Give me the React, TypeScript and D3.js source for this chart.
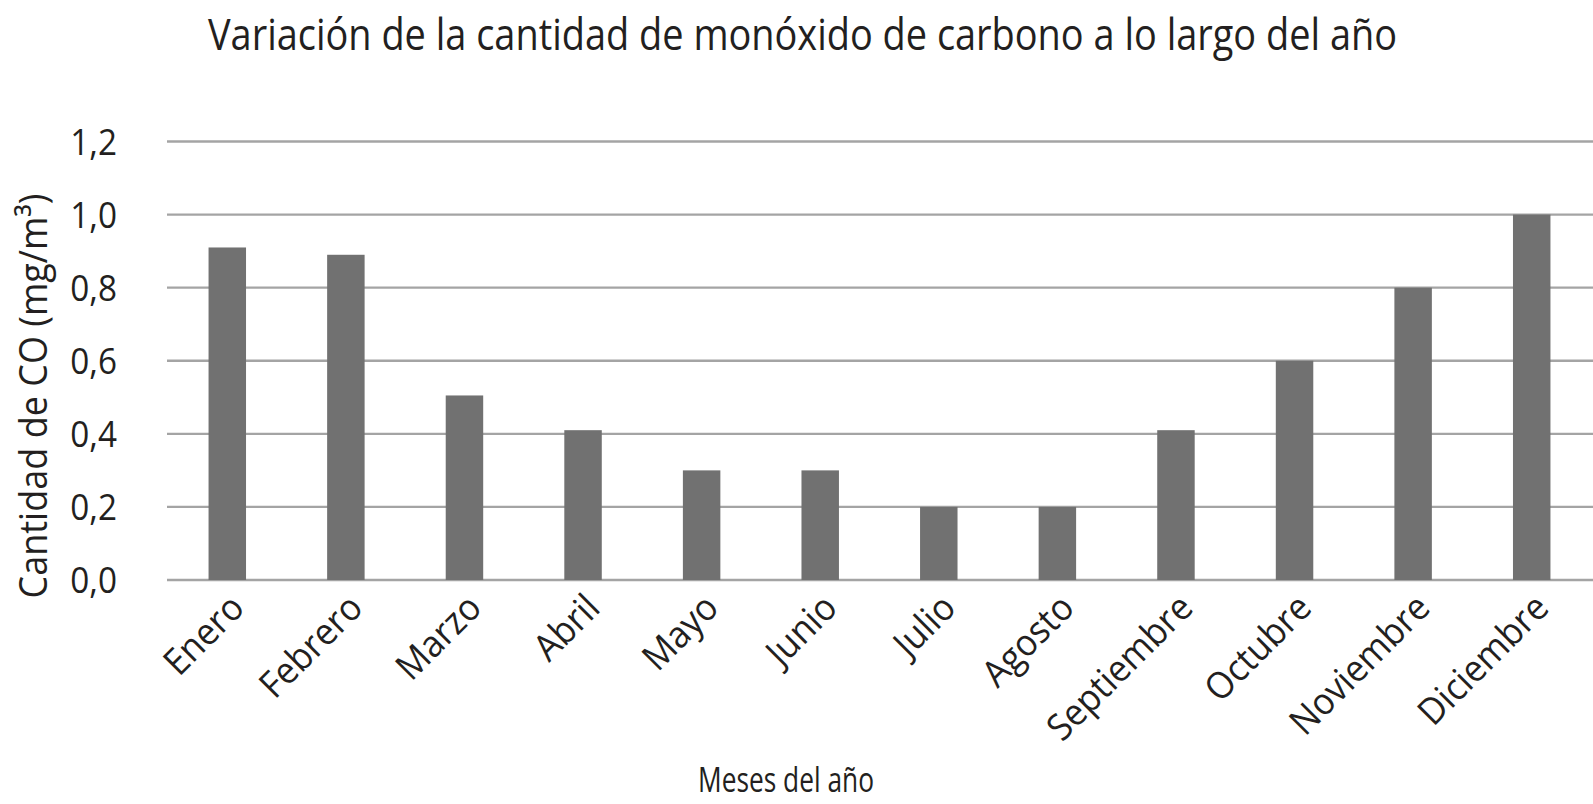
import * as d3 from "d3";
import { useRef, useEffect } from "react";

const months = [
  "Enero", "Febrero", "Marzo", "Abril", "Mayo", "Junio",
  "Julio", "Agosto", "Septiembre", "Octubre", "Noviembre", "Diciembre",
];
const coValues = [0.91, 0.89, 0.505, 0.41, 0.3, 0.3, 0.2, 0.2, 0.41, 0.6, 0.8, 1.0];
const yTicks = [0, 0.2, 0.4, 0.6, 0.8, 1.0, 1.2];

const titleText = "Variación de la cantidad de monóxido de carbono a lo largo del año";
const yLabelText = "Cantidad de CO (mg/m³)";
const xLabelText = "Meses del año";

const esFormat = d3.formatLocale({
  decimal: ",",
  thousands: ".",
  grouping: [3],
  currency: ["", " €"],
}).format(".1f");

export default function App() {
  const svgRef = useRef<SVGSVGElement | null>(null);

  useEffect(() => {
    const W = 1593;
    const H = 804;
    const font = "'Open Sans', 'DejaVu Sans', sans-serif";
    const ink = "#231f20";

    const svg = d3.select(svgRef.current);
    svg.selectAll("*").remove();
    svg.attr("viewBox", `0 0 ${W} ${H}`);

    const x = d3
      .scaleBand<string>()
      .domain(months)
      .range([168, 1591])
      .paddingInner(0.684)
      .paddingOuter(0.342);
    const y = d3.scaleLinear().domain([0, 1.2]).range([580, 141.5]);

    // horizontal grid
    svg
      .append("g")
      .selectAll("line")
      .data(yTicks)
      .join("line")
      .attr("x1", 167)
      .attr("x2", W)
      .attr("y1", d => y(d))
      .attr("y2", d => y(d))
      .attr("stroke", "#a4a4a4")
      .attr("stroke-width", 2.4);

    // bars
    svg
      .append("g")
      .selectAll("rect")
      .data(months)
      .join("rect")
      .attr("x", d => x(d)!)
      .attr("width", x.bandwidth())
      .attr("y", (_, i) => y(coValues[i]))
      .attr("height", (_, i) => y(0) - y(coValues[i]))
      .attr("fill", "#717171");

    // y tick labels
    svg
      .append("g")
      .selectAll("text")
      .data(yTicks)
      .join("text")
      .attr("transform", d => `translate(117,${y(d) + 13}) scale(0.9,1)`)
      .attr("text-anchor", "end")
      .attr("font-family", font)
      .attr("font-size", 37)
      .attr("fill", ink)
      .text(d => esFormat(d));

    // month labels, rotated
    svg
      .append("g")
      .selectAll("text")
      .data(months)
      .join("text")
      .attr(
        "transform",
        d => `translate(${x(d)! + x.bandwidth() / 2 + 19},${y(0) + 30}) rotate(-45) scale(0.94,1)`
      )
      .attr("text-anchor", "end")
      .attr("font-family", font)
      .attr("font-size", 37)
      .attr("fill", ink)
      .text(d => d);

    // title
    svg
      .append("text")
      .attr("x", 208)
      .attr("y", 50)
      .attr("font-family", font)
      .attr("font-size", 43)
      .attr("fill", ink)
      .attr("textLength", 1189)
      .attr("lengthAdjust", "spacingAndGlyphs")
      .text(titleText);

    // y axis title
    svg
      .append("text")
      .attr("transform", "translate(47,396) rotate(-90)")
      .attr("text-anchor", "middle")
      .attr("font-family", font)
      .attr("font-size", 38)
      .attr("fill", ink)
      .attr("textLength", 405)
      .attr("lengthAdjust", "spacingAndGlyphs")
      .text(yLabelText);

    // x axis title
    svg
      .append("text")
      .attr("x", 786)
      .attr("y", 792)
      .attr("text-anchor", "middle")
      .attr("font-family", font)
      .attr("font-size", 34)
      .attr("fill", ink)
      .attr("textLength", 176)
      .attr("lengthAdjust", "spacingAndGlyphs")
      .text(xLabelText);
  }, []);

  return (
    <svg
      ref={svgRef}
      width={1593}
      height={804}
      style={{ position: "absolute", left: 0, top: 0, display: "block", background: "#fff" }}
    />
  );
}
